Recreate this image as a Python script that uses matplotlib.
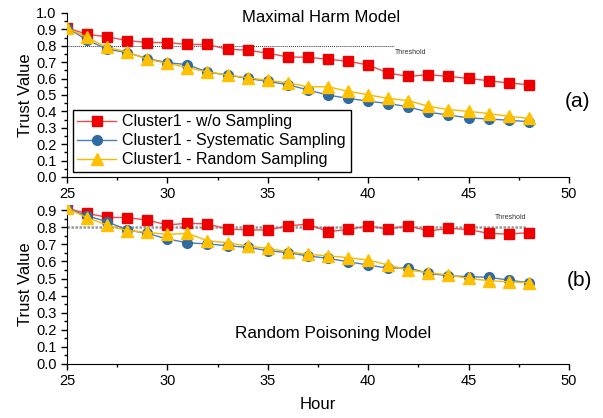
import matplotlib
matplotlib.use('Agg')
import matplotlib.pyplot as plt
from matplotlib.ticker import MultipleLocator

plt.rcParams['font.family'] = ['Liberation Sans', 'DejaVu Sans']

# ── 데이터 ──
hours = list(range(25, 49))

a_wo = [0.91, 0.87, 0.855, 0.832, 0.82, 0.82, 0.808, 0.808, 0.779, 0.773, 0.755, 0.732,
        0.73, 0.718, 0.706, 0.683, 0.634, 0.613, 0.624, 0.613, 0.601, 0.587, 0.573, 0.563]
a_sys = [0.91, 0.836, 0.779, 0.759, 0.722, 0.697, 0.685, 0.640, 0.622, 0.601, 0.583, 0.563,
         0.531, 0.499, 0.48, 0.462, 0.448, 0.428, 0.395, 0.378, 0.36, 0.354, 0.346, 0.337]
a_rand = [0.91, 0.851, 0.79, 0.763, 0.718, 0.693, 0.667, 0.64, 0.622, 0.605, 0.589, 0.575,
          0.55, 0.55, 0.523, 0.501, 0.479, 0.466, 0.431, 0.411, 0.40, 0.387, 0.37, 0.358]

b_wo = [0.91, 0.881, 0.858, 0.856, 0.842, 0.813, 0.823, 0.819, 0.789, 0.784, 0.784, 0.807,
        0.819, 0.774, 0.787, 0.807, 0.789, 0.809, 0.778, 0.793, 0.787, 0.764, 0.76, 0.768]
b_sys = [0.91, 0.867, 0.832, 0.784, 0.764, 0.731, 0.709, 0.702, 0.692, 0.682, 0.663, 0.651,
         0.632, 0.618, 0.598, 0.579, 0.56, 0.563, 0.53, 0.516, 0.511, 0.507, 0.491, 0.475]
b_rand = [0.91, 0.856, 0.813, 0.78, 0.77, 0.758, 0.764, 0.721, 0.709, 0.69, 0.676, 0.657,
          0.641, 0.633, 0.622, 0.608, 0.579, 0.55, 0.534, 0.52, 0.501, 0.487, 0.481, 0.475]

threshold = 0.8
labels = ['Cluster1 - w/o Sampling', 'Cluster1 - Systematic Sampling', 'Cluster1 - Random Sampling']

fig = plt.figure(figsize=(6.03, 4.18), dpi=100, facecolor='white')
ax1 = fig.add_axes([0.111, 0.5766, 0.8325, 0.3923])
ax2 = fig.add_axes([0.111, 0.1292, 0.8325, 0.3804])


def draw_series(ax, wo, sys_, rand):
    ax.plot(hours, wo, color='#f04a4a', lw=1.0, marker='s', ms=6.5,
            mfc='#ee0000', mec='#ee0000', label=labels[0], zorder=3)
    ax.plot(hours, sys_, color='#4a7fb5', lw=1.0, marker='o', ms=7,
            mfc='#2f6aa3', mec='#2f6aa3', label=labels[1], zorder=4)
    ax.plot(hours, rand, color='#f5b800', lw=1.0, marker='^', ms=8,
            mfc='#ffc000', mec='#ffc000', label=labels[2], zorder=5)


def style_axes(ax, ytop):
    ax.set_xlim(25, 50)
    ax.set_ylim(0, ytop)
    ax.xaxis.set_major_locator(MultipleLocator(5))
    ax.xaxis.set_minor_locator(MultipleLocator(2.5))
    ax.yaxis.set_major_locator(MultipleLocator(0.1))
    ax.yaxis.set_minor_locator(MultipleLocator(0.05))
    ax.yaxis.set_major_formatter(plt.FuncFormatter(lambda v, _: f'{v:.1f}'))
    ax.spines['top'].set_visible(False)
    ax.spines['right'].set_visible(False)
    ax.tick_params(which='major', direction='out', length=4, width=1, labelsize=10.5)
    ax.tick_params(which='minor', direction='out', length=2.5, width=1)
    ax.set_ylabel('Trust Value', fontsize=12, labelpad=2)


# ── (a) Maximal Harm Model ──
draw_series(ax1, a_wo, a_sys, a_rand)
ax1.plot([25, 41.3], [threshold, threshold], color='#333333', lw=0.7, ls=(0, (1, 1)), zorder=2)
ax1.text(41.35, threshold - 0.04, 'Threshold', fontsize=5, va='center', ha='left', color='#333333')
ax1.text(0.506, 0.972, 'Maximal Harm Model', transform=ax1.transAxes,
         fontsize=12, ha='center', va='center')
ax1.text(1.018, 0.46, '(a)', transform=ax1.transAxes, fontsize=15, ha='center', va='center')
style_axes(ax1, 1.0)
ax1.legend(loc='lower left', bbox_to_anchor=(0.005, 0.01), fontsize=11.5, frameon=True,
           fancybox=False, edgecolor='black', framealpha=1, borderpad=0.3,
           labelspacing=0.25, handlelength=2.4, handletextpad=0.4, borderaxespad=0.2)
ax1.legend_.get_frame().set_linewidth(1.0)

# ── (b) Random Poisoning Model ──
draw_series(ax2, b_wo, b_sys, b_rand)
ax2.plot([25, 47.9], [threshold, threshold], color='#999999', lw=1.8, ls=(0, (1, 0.6)), zorder=2)
ax2.text(46.3, 0.854, 'Threshold', fontsize=5, va='center', ha='left', color='#333333')
ax2.text(0.53, 0.189, 'Random Poisoning Model', transform=ax2.transAxes,
         fontsize=12.3, ha='center', va='center')
ax2.text(1.02, 0.528, '(b)', transform=ax2.transAxes, fontsize=15, ha='center', va='center')
style_axes(ax2, 0.93)
ax2.set_xlabel('Hour', fontsize=12, labelpad=6)

plt.savefig('out.png', dpi=100, facecolor='white')
plt.close()
